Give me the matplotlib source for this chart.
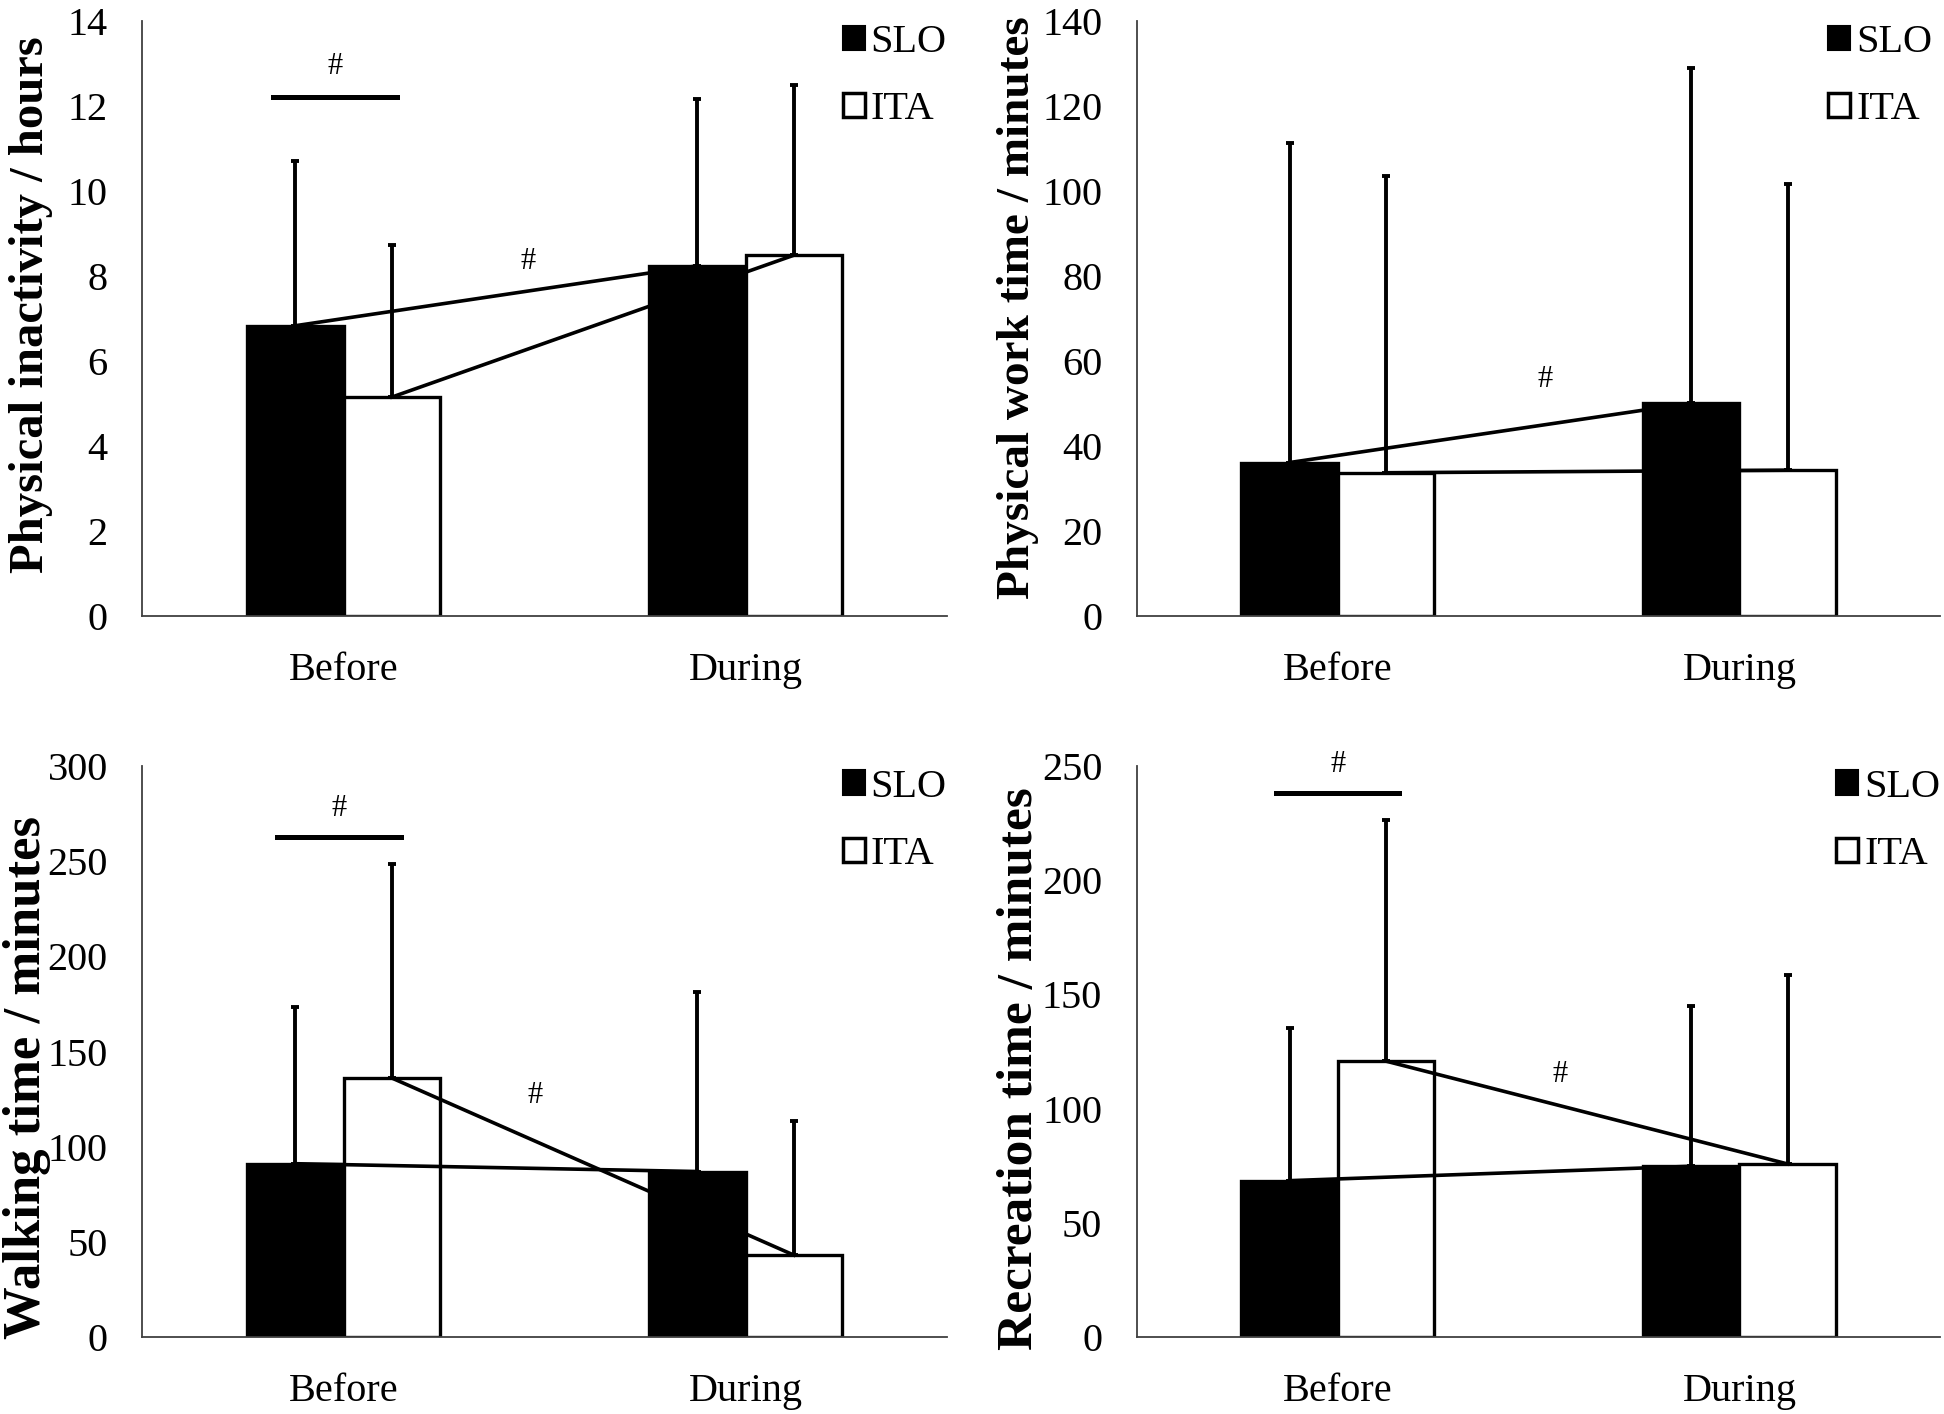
import matplotlib
matplotlib.use("Agg")
import matplotlib.pyplot as plt
from matplotlib.patches import Patch
import numpy as np

plt.rcParams['font.family'] = ['Liberation Serif', 'DejaVu Serif']

periods = ['Before', 'During']
groups = ['SLO', 'ITA']

# means and (upper) SD
inact_slo = [6.83, 8.24]
inact_slo_sd = [3.88, 3.92]
inact_ita = [5.15, 8.49]
inact_ita_sd = [3.58, 4.00]

work_slo = [36.1, 50.1]
work_slo_sd = [75.1, 78.9]
work_ita = [33.7, 34.3]
work_ita_sd = [69.9, 67.3]

walk_slo = [91.1, 87.0]
walk_slo_sd = [82.4, 94.0]
walk_ita = [136.1, 43.1]
walk_ita_sd = [112.1, 70.3]

rec_slo = [68.5, 74.8]
rec_slo_sd = [66.7, 70.0]
rec_ita = [120.8, 75.8]
rec_ita_sd = [105.5, 82.8]

ylabels = ['Physical inactivity / hours', 'Physical work time / minutes',
           'Walking time / minutes', 'Recreation time / minutes']
ymax = [14, 140, 300, 250]
ystep = [2, 20, 50, 50]

panels = [
    (inact_slo, inact_slo_sd, inact_ita, inact_ita_sd),
    (work_slo, work_slo_sd, work_ita, work_ita_sd),
    (walk_slo, walk_slo_sd, walk_ita, walk_ita_sd),
    (rec_slo, rec_slo_sd, rec_ita, rec_ita_sd),
]

# significance marks: (bracket x0, x1, y) or None, and the "#" over the trend lines
brackets = [(-0.175, 0.132, 12.22), None, (-0.166, 0.142, 262.6), (-0.153, 0.153, 238.0)]
mid_hash = [(0.46, 8.35), (0.517, 55.7), (0.477, 127.0), (0.554, 114.8)]

# layout
axes_pos = [[0.0733, 0.5644, 0.4137, 0.4207],
            [0.5848, 0.5644, 0.4133, 0.4207],
            [0.0733, 0.0543, 0.4137, 0.4041],
            [0.5848, 0.0543, 0.4133, 0.4041]]
label_xy = [(-0.139, 0.524), (-0.148, 0.518), (-0.143, 0.455), (-0.145, 0.470)]
label_size = [35, 34, 38, 37]
legend_x = [1.0, 0.99, 1.0, 1.0]

fig = plt.figure(figsize=(19.44, 14.14), dpi=100)
w = 0.24
x = np.arange(len(periods))

for i, (slo, slo_sd, ita, ita_sd) in enumerate(panels):
    ax = fig.add_axes(axes_pos[i])
    ax.bar(x - w / 2, slo, w, color='black', edgecolor='black', lw=2.4, zorder=2)
    ax.bar(x + w / 2, ita, w, color='white', edgecolor='black', lw=2.4, zorder=2)
    ax.errorbar(x - w / 2, slo, yerr=[np.zeros(2), slo_sd], fmt='none', ecolor='black',
                elinewidth=2.8, capsize=2.9, capthick=2.8, zorder=3)
    ax.errorbar(x + w / 2, ita, yerr=[np.zeros(2), ita_sd], fmt='none', ecolor='black',
                elinewidth=2.8, capsize=2.9, capthick=2.8, zorder=3)
    ax.plot(x - w / 2, slo, color='black', lw=2.6, zorder=4)
    ax.plot(x + w / 2, ita, color='black', lw=2.6, zorder=4)

    if brackets[i] is not None:
        x0, x1, yb = brackets[i]
        ax.plot([x0, x1], [yb, yb], color='black', lw=3.6, zorder=4)
        ax.text((x0 + x1) / 2, yb + ymax[i] * 0.05, '#', ha='center', va='center', fontsize=22)
    hx, hy = mid_hash[i]
    ax.text(hx, hy, '#', ha='center', va='center', fontsize=22)

    ax.set_xlim(-0.5, 1.5)
    ax.set_ylim(0, ymax[i])
    ax.set_yticks(np.arange(0, ymax[i] + 1, ystep[i]))
    ax.set_xticks(x)
    ax.set_xticklabels(periods)
    ax.tick_params(axis='both', length=0, labelsize=29)
    ax.tick_params(axis='y', pad=25)
    ax.tick_params(axis='x', pad=26)
    for s in ['top', 'right']:
        ax.spines[s].set_visible(False)
    for s in ['left', 'bottom']:
        ax.spines[s].set_color('#404040')
        ax.spines[s].set_linewidth(1.3)

    ax.set_ylabel(ylabels[i], fontsize=label_size[i], fontweight='bold', va='center')
    ax.yaxis.set_label_coords(*label_xy[i])

    handles = [Patch(facecolor='black', edgecolor='black', lw=1.5),
               Patch(facecolor='white', edgecolor='black', lw=2.5)]
    ax.legend(handles, groups, loc='upper right', bbox_to_anchor=(legend_x[i], 0.995),
              frameon=False, fontsize=29, handlelength=0.55, handleheight=0.55,
              handletextpad=0.15, labelspacing=0.75, borderpad=0, borderaxespad=0)

fig.savefig('out.png', dpi=100)
